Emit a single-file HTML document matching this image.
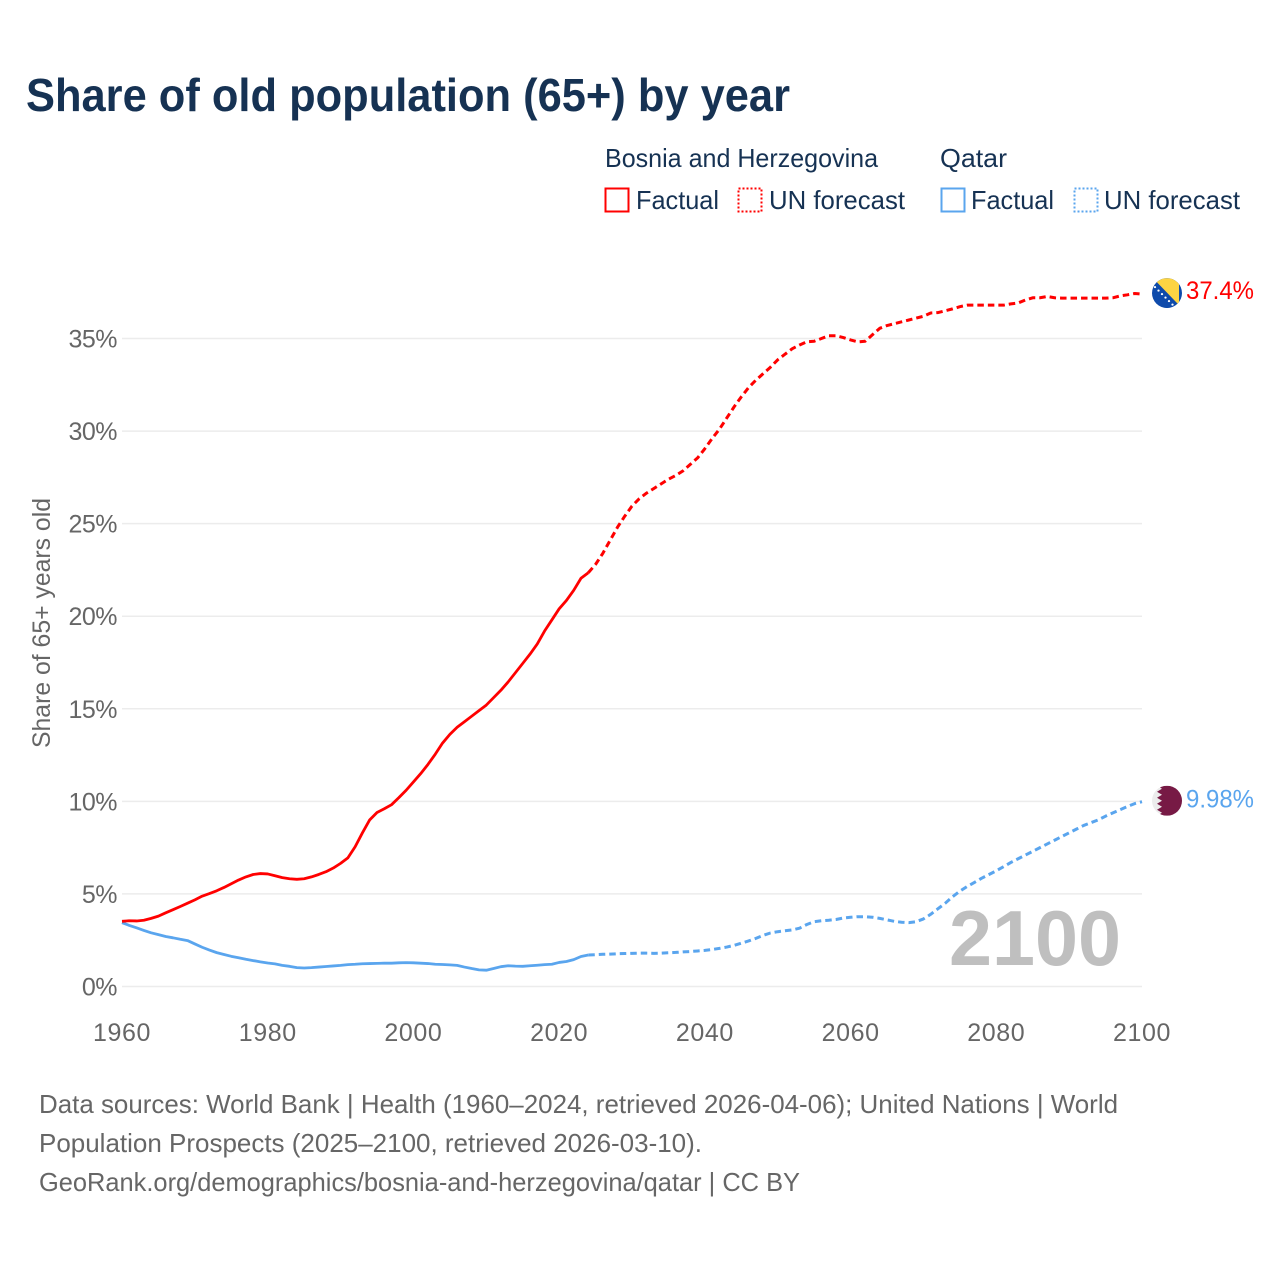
<!DOCTYPE html>
<html lang="en">
<head>
<meta charset="utf-8">
<title>Share of old population (65+) by year</title>
<style>
html,body{margin:0;padding:0;background:#fff;width:1280px;height:1280px;overflow:hidden}
svg{display:block;font-family:"Liberation Sans",sans-serif}
.title{font-size:46px;font-weight:700;fill:#163253}
.legend{font-size:26px;fill:#163253}
.tick{font-size:25px;fill:#666}
.source{font-size:26px;fill:#666}
</style>
</head>
<body>
<svg id="chart" xmlns="http://www.w3.org/2000/svg" width="1280" height="1280" viewBox="0 0 1280 1280">
  <defs>
    <clipPath id="flag-clip"><circle cx="0" cy="0" r="15"/></clipPath>
  </defs>
  <rect x="0" y="0" width="1280" height="1280" fill="#fff"/>
  <text class="title" x="26" y="111" textLength="764" lengthAdjust="spacingAndGlyphs">Share of old population (65+) by year</text>

  <g>
    <text class="legend" x="605" y="167" textLength="273" lengthAdjust="spacingAndGlyphs">Bosnia and Herzegovina</text>
    <rect x="605.5" y="188.5" width="23" height="23" fill="none" stroke="#ff0000" stroke-width="2"/>
    <text class="legend" x="636" y="209" textLength="83" lengthAdjust="spacingAndGlyphs">Factual</text>
    <rect x="738.5" y="188.5" width="23" height="23" fill="none" stroke="#ff0000" stroke-width="2" stroke-dasharray="2 2"/>
    <text class="legend" x="769" y="209" textLength="136" lengthAdjust="spacingAndGlyphs">UN forecast</text>

    <text class="legend" x="940" y="167" textLength="67" lengthAdjust="spacingAndGlyphs">Qatar</text>
    <rect x="941.5" y="188.5" width="23" height="23" fill="none" stroke="#5aa5ee" stroke-width="2"/>
    <text class="legend" x="971" y="209" textLength="83" lengthAdjust="spacingAndGlyphs">Factual</text>
    <rect x="1074.5" y="188.5" width="23" height="23" fill="none" stroke="#5aa5ee" stroke-width="2" stroke-dasharray="2 2"/>
    <text class="legend" x="1104" y="209" textLength="136" lengthAdjust="spacingAndGlyphs">UN forecast</text>
  </g>

  <text class="tick" transform="translate(50,748) rotate(-90)" textLength="250" lengthAdjust="spacingAndGlyphs">Share of 65+ years old</text>

  <g id="grid"></g>
  <g id="y-ticks"></g>
  <g id="x-ticks"></g>

  <text x="949" y="965" font-size="78" font-weight="700" fill="#bfbfbf" textLength="172" lengthAdjust="spacingAndGlyphs">2100</text>

  <g id="series"></g>

  <g id="flag-bosnia">
    <g clip-path="url(#flag-clip)">
      <rect x="-15" y="-15" width="30" height="30" fill="#0f4bab"/>
      <polygon points="-14,-15 12,-15 12,12" fill="#fdd442"/>
      <g fill="#fff">
        <circle cx="-12" cy="-6" r="1.1"/><circle cx="-8.5" cy="-2.5" r="1.1"/><circle cx="-5" cy="1" r="1.1"/><circle cx="-1.5" cy="4.5" r="1.1"/><circle cx="2" cy="8" r="1.1"/><circle cx="5.5" cy="11.5" r="1.1"/>
      </g>
    </g>
  </g>
  <g id="flag-qatar">
    <g clip-path="url(#flag-clip)">
      <rect x="-15" y="-15" width="30" height="30" fill="#ececec"/>
      <polygon points="15,-15 -10,-15 -5,-12 -10,-9 -5,-6 -10,-3 -5,0 -10,3 -5,6 -10,9 -5,12 -10,15 15,15" fill="#771a45"/>
    </g>
  </g>
  <text id="label-bosnia" x="1186" font-size="25" fill="#ff0000" textLength="68" lengthAdjust="spacingAndGlyphs"></text>
  <text id="label-qatar" x="1186" font-size="25" fill="#5aa5ee" textLength="68" lengthAdjust="spacingAndGlyphs"></text>

  <g>
    <text class="source" x="39" y="1113" textLength="1079" lengthAdjust="spacingAndGlyphs">Data sources: World Bank | Health (1960–2024, retrieved 2026-04-06); United Nations | World</text>
    <text class="source" x="39" y="1152" textLength="663" lengthAdjust="spacingAndGlyphs">Population Prospects (2025–2100, retrieved 2026-03-10).</text>
    <text class="source" x="39" y="1191" textLength="761" lengthAdjust="spacingAndGlyphs">GeoRank.org/demographics/bosnia-and-herzegovina/qatar | CC BY</text>
  </g>
</svg>
<script>
const factualStartYear = 1960;
const forecastStartYear = 2024;
const yTickValues = [0, 5, 10, 15, 20, 25, 30, 35];
const yTickLabels = ["0%", "5%", "10%", "15%", "20%", "25%", "30%", "35%"];
const xTickYears = [1960, 1980, 2000, 2020, 2040, 2060, 2080, 2100];
const endLabelBosnia = "37.4%";
const endLabelQatar = "9.98%";

const bosniaFactual = [
  3.52,3.55,3.54,3.58,3.68,3.8,3.98,4.15,4.32,4.5,
  4.68,4.88,5.02,5.17,5.35,5.55,5.75,5.92,6.05,6.1,
  6.08,5.98,5.88,5.82,5.79,5.82,5.92,6.05,6.2,6.4,
  6.65,6.95,7.55,8.3,9.0,9.4,9.6,9.82,10.2,10.6,
  11.05,11.5,12.0,12.55,13.15,13.62,14.0,14.3,14.6,14.9,
  15.2,15.6,16.0,16.45,16.95,17.45,17.95,18.5,19.2,19.8,
  20.4,20.85,21.4,22.05,22.35
];
const bosniaForecast = [
  22.35,22.8,23.4,24.1,24.8,25.4,25.95,26.35,26.65,26.9,
  27.15,27.4,27.6,27.85,28.2,28.55,29.05,29.6,30.1,30.7,
  31.3,31.85,32.35,32.75,33.1,33.45,33.85,34.15,34.45,34.65,
  34.82,34.85,35.0,35.15,35.15,35.05,34.92,34.82,34.85,35.2,
  35.55,35.7,35.8,35.9,36.0,36.1,36.2,36.38,36.4,36.5,
  36.6,36.72,36.8,36.8,36.8,36.8,36.8,36.8,36.87,36.92,
  37.08,37.2,37.2,37.27,37.2,37.18,37.18,37.18,37.18,37.18,
  37.18,37.18,37.2,37.3,37.36,37.43,37.4
];
const qatarFactual = [
  3.45,3.3,3.17,3.03,2.9,2.8,2.7,2.63,2.55,2.48,
  2.3,2.12,1.97,1.83,1.73,1.63,1.55,1.47,1.4,1.33,
  1.27,1.22,1.14,1.09,1.02,1.0,1.02,1.05,1.08,1.11,
  1.14,1.18,1.2,1.23,1.24,1.25,1.26,1.26,1.28,1.29,
  1.28,1.26,1.24,1.2,1.19,1.17,1.14,1.05,0.97,0.9,
  0.88,0.97,1.07,1.12,1.1,1.09,1.12,1.15,1.18,1.2,
  1.3,1.35,1.45,1.62,1.7
];
const qatarForecast = [
  1.7,1.72,1.74,1.75,1.77,1.78,1.79,1.8,1.8,1.79,
  1.8,1.82,1.84,1.87,1.89,1.92,1.95,2.0,2.06,2.13,
  2.22,2.34,2.46,2.6,2.76,2.89,2.96,3.01,3.06,3.15,
  3.35,3.5,3.55,3.58,3.62,3.7,3.74,3.77,3.77,3.74,
  3.68,3.6,3.52,3.47,3.45,3.5,3.65,3.9,4.2,4.5,
  4.85,5.15,5.4,5.62,5.85,6.05,6.25,6.47,6.7,6.9,
  7.1,7.3,7.5,7.7,7.9,8.1,8.3,8.5,8.7,8.85,
  9.0,9.2,9.38,9.55,9.72,9.88,9.98
];

const NS = "http://www.w3.org/2000/svg";
function xScale(year) { return 122 + (year - 1960) * (1020 / 140); }
function yScale(v) { return 986.5 - v * (648 / 35); }

function pathFrom(values, startYear) {
  return values.map(function (v, i) {
    return (i ? "L" : "M") + xScale(startYear + i).toFixed(2) + " " + yScale(v).toFixed(2);
  }).join(" ");
}

const gridGroup = document.getElementById("grid");
const yTickGroup = document.getElementById("y-ticks");
yTickValues.forEach(function (v, i) {
  const line = document.createElementNS(NS, "line");
  
  
  line.setAttribute("x1", xScale(1960));
  line.setAttribute("x2", xScale(2100));
  line.setAttribute("y1", yScale(v));
  line.setAttribute("y2", yScale(v));
  line.setAttribute("stroke", "#ececec");
  line.setAttribute("stroke-width", "1.5");
  gridGroup.appendChild(line);

  const label = document.createElementNS(NS, "text");
  
  
  label.setAttribute("class", "tick");
  label.setAttribute("x", 117);
  label.setAttribute("y", yScale(v) + 9);
  label.setAttribute("text-anchor", "end");
  label.setAttribute("letter-spacing", "-0.5");
  label.textContent = yTickLabels[i];
  yTickGroup.appendChild(label);
});

const xTickGroup = document.getElementById("x-ticks");
xTickYears.forEach(function (year) {
  const label = document.createElementNS(NS, "text");
  
  
  label.setAttribute("class", "tick");
  label.setAttribute("x", xScale(year));
  label.setAttribute("y", 1041);
  label.setAttribute("text-anchor", "middle");
  label.setAttribute("letter-spacing", "0.6");
  label.textContent = String(year);
  xTickGroup.appendChild(label);
});

const seriesGroup = document.getElementById("series");
function drawLine(values, startYear, color, dashed, name) {
  const path = document.createElementNS(NS, "path");
  
  
  path.setAttribute("d", pathFrom(values, startYear));
  path.setAttribute("fill", "none");
  path.setAttribute("stroke", color);
  path.setAttribute("stroke-width", dashed ? "3" : "2.8");
  path.setAttribute("stroke-linejoin", "round");
  if (dashed) path.setAttribute("stroke-dasharray", "6.5 4");
  seriesGroup.appendChild(path);
}
drawLine(qatarFactual, factualStartYear, "#5aa5ee", false, "line-qatar-factual");
drawLine(qatarForecast, forecastStartYear, "#5aa5ee", true, "line-qatar-forecast");
drawLine(bosniaFactual, factualStartYear, "#ff0000", false, "line-bosnia-factual");
drawLine(bosniaForecast, forecastStartYear, "#ff0000", true, "line-bosnia-forecast");

const bosniaEnd = yScale(bosniaForecast[bosniaForecast.length - 1]);
const qatarEnd = yScale(qatarForecast[qatarForecast.length - 1]);
document.getElementById("flag-bosnia").setAttribute("transform", "translate(1167," + (bosniaEnd - 1) + ")");
document.getElementById("flag-qatar").setAttribute("transform", "translate(1167," + (qatarEnd - 1) + ")");
const labelBosnia = document.getElementById("label-bosnia");
labelBosnia.setAttribute("y", bosniaEnd + 5);
labelBosnia.textContent = endLabelBosnia;
const labelQatar = document.getElementById("label-qatar");
labelQatar.setAttribute("y", qatarEnd + 6);
labelQatar.textContent = endLabelQatar;
</script>
</body>
</html>
